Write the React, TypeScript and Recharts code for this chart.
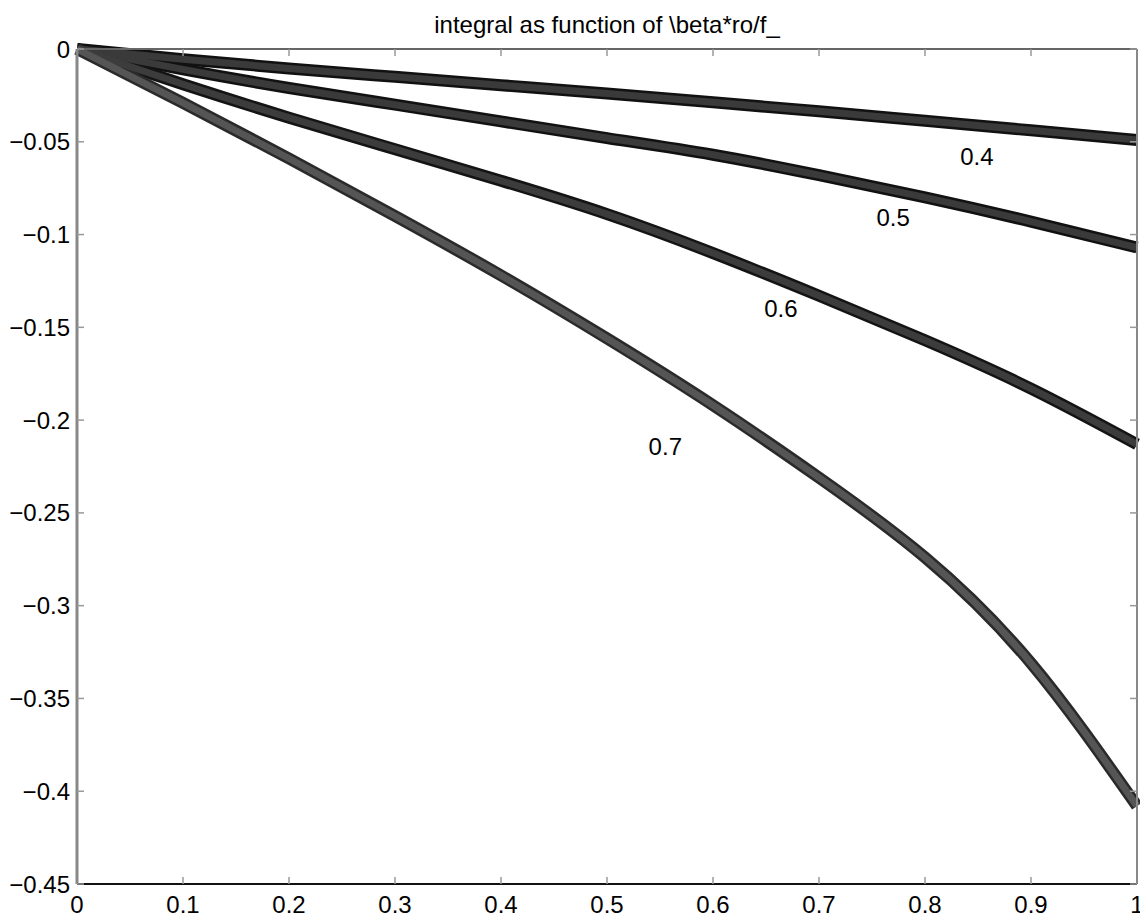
import { LineChart, Line, XAxis, YAxis, ReferenceDot } from "recharts";

// beta*ro/f_ values along the x axis
const xValues = [0, 0.1, 0.2, 0.3, 0.4, 0.5, 0.6, 0.7, 0.8, 0.9, 1];

// integral value for each contour parameter
const curve04 = [0, -0.0055, -0.0105, -0.015, -0.0195, -0.024, -0.0287, -0.0336, -0.0387, -0.0438, -0.049];
const curve05 = [0, -0.011, -0.021, -0.03, -0.039, -0.048, -0.057, -0.068, -0.08, -0.093, -0.107];
const curve06 = [0, -0.019, -0.037, -0.054, -0.071, -0.089, -0.11, -0.133, -0.157, -0.183, -0.213];
const curve07 = [0, -0.029, -0.059, -0.09, -0.122, -0.156, -0.192, -0.231, -0.274, -0.331, -0.408];

const xTicks = [0, 0.1, 0.2, 0.3, 0.4, 0.5, 0.6, 0.7, 0.8, 0.9, 1];
const yTicks = [0, -0.05, -0.1, -0.15, -0.2, -0.25, -0.3, -0.35, -0.4, -0.45];

// in-plot text labels for the curves (data coords)
const labelNames = ["0.4", "0.5", "0.6", "0.7"];
const labelX = [0.849, 0.77, 0.664, 0.555];
const labelY = [-0.058, -0.091, -0.14, -0.214];

const data = xValues.map((x, i) => ({
    x,
    c04: curve04[i],
    c05: curve05[i],
    c06: curve06[i],
    c07: curve07[i],
}));

const fmt = (v: number) => {
    if (v === 0) return "0";
    const s = String(Math.abs(v));
    return v < 0 ? "\u2212" + s : s;
};

const font = "'Liberation Sans', Arial, Helvetica, sans-serif";
const tickStyle = { fontSize: 24, fill: "#000", fontFamily: font };

const series = [
    { key: "c04", edge: "#111", core: "#3a3a3a" },
    { key: "c05", edge: "#111", core: "#3a3a3a" },
    { key: "c06", edge: "#141414", core: "#3c3c3c" },
    { key: "c07", edge: "#2a2a2a", core: "#555" },
];

export default function App() {
    return (
        <div style={{ position: "relative", width: 1140, height: 914 }}>
            <div
                style={{
                    position: "absolute",
                    left: 69,
                    width: 1060,
                    top: 5,
                    textAlign: "center",
                    fontFamily: font,
                    fontSize: 24,
                    lineHeight: "24px",
                    color: "#000",
                }}
            >
                integral as function of \beta*ro/f_
            </div>
            <LineChart
                width={1140}
                height={914}
                data={data}
                margin={{ top: 21, right: 10, bottom: 0, left: 0 }}
                style={{ fontFamily: font }}
            >
                <XAxis
                    dataKey="x"
                    type="number"
                    domain={[0, 1]}
                    ticks={xTicks}
                    interval={0}
                    height={38}
                    tick={tickStyle}
                    tickFormatter={fmt}
                    tickSize={-7}
                    tickMargin={19}
                    axisLine={{ stroke: "#111", strokeWidth: 2 }}
                    tickLine={{ stroke: "#999", strokeWidth: 1.5 }}
                />
                <XAxis
                    xAxisId="top"
                    orientation="top"
                    dataKey="x"
                    type="number"
                    domain={[0, 1]}
                    ticks={xTicks}
                    interval={0}
                    height={20}
                    tick={{ fontSize: 1, fill: "none" }}
                    tickFormatter={() => ""}
                    tickSize={-7}
                    axisLine={{ stroke: "#666", strokeWidth: 2 }}
                    tickLine={{ stroke: "#999", strokeWidth: 1.5 }}
                />
                <YAxis
                    type="number"
                    domain={[-0.45, 0]}
                    ticks={yTicks}
                    interval={0}
                    width={69}
                    tick={tickStyle}
                    tickFormatter={fmt}
                    tickSize={-7}
                    tickMargin={14}
                    axisLine={{ stroke: "#888", strokeWidth: 3 }}
                    tickLine={{ stroke: "#999", strokeWidth: 1.5 }}
                />
                <YAxis
                    yAxisId="right"
                    orientation="right"
                    type="number"
                    domain={[-0.45, 0]}
                    ticks={yTicks}
                    interval={0}
                    width={1}
                    tickFormatter={() => ""}
                    tickSize={-7}
                    axisLine={{ stroke: "#888", strokeWidth: 2 }}
                    tickLine={{ stroke: "#999", strokeWidth: 1.5 }}
                />
                {series.map((s) => (
                    <Line
                        key={s.key + "-edge"}
                        dataKey={s.key}
                        type="natural"
                        stroke={s.edge}
                        strokeWidth={12}
                        dot={false}
                        activeDot={false}
                        isAnimationActive={false}
                    />
                ))}
                {series.map((s) => (
                    <Line
                        key={s.key + "-core"}
                        dataKey={s.key}
                        xAxisId="top"
                        yAxisId="right"
                        type="natural"
                        stroke={s.core}
                        strokeWidth={7}
                        dot={false}
                        activeDot={false}
                        isAnimationActive={false}
                    />
                ))}
                {labelNames.map((name, i) => (
                    <ReferenceDot
                        key={name}
                        x={labelX[i]}
                        y={labelY[i]}
                        r={0}
                        fill="none"
                        stroke="none"
                        label={{ value: name, position: "center", fontSize: 24, fill: "#000", fontFamily: font }}
                    />
                ))}
            </LineChart>
        </div>
    );
}
